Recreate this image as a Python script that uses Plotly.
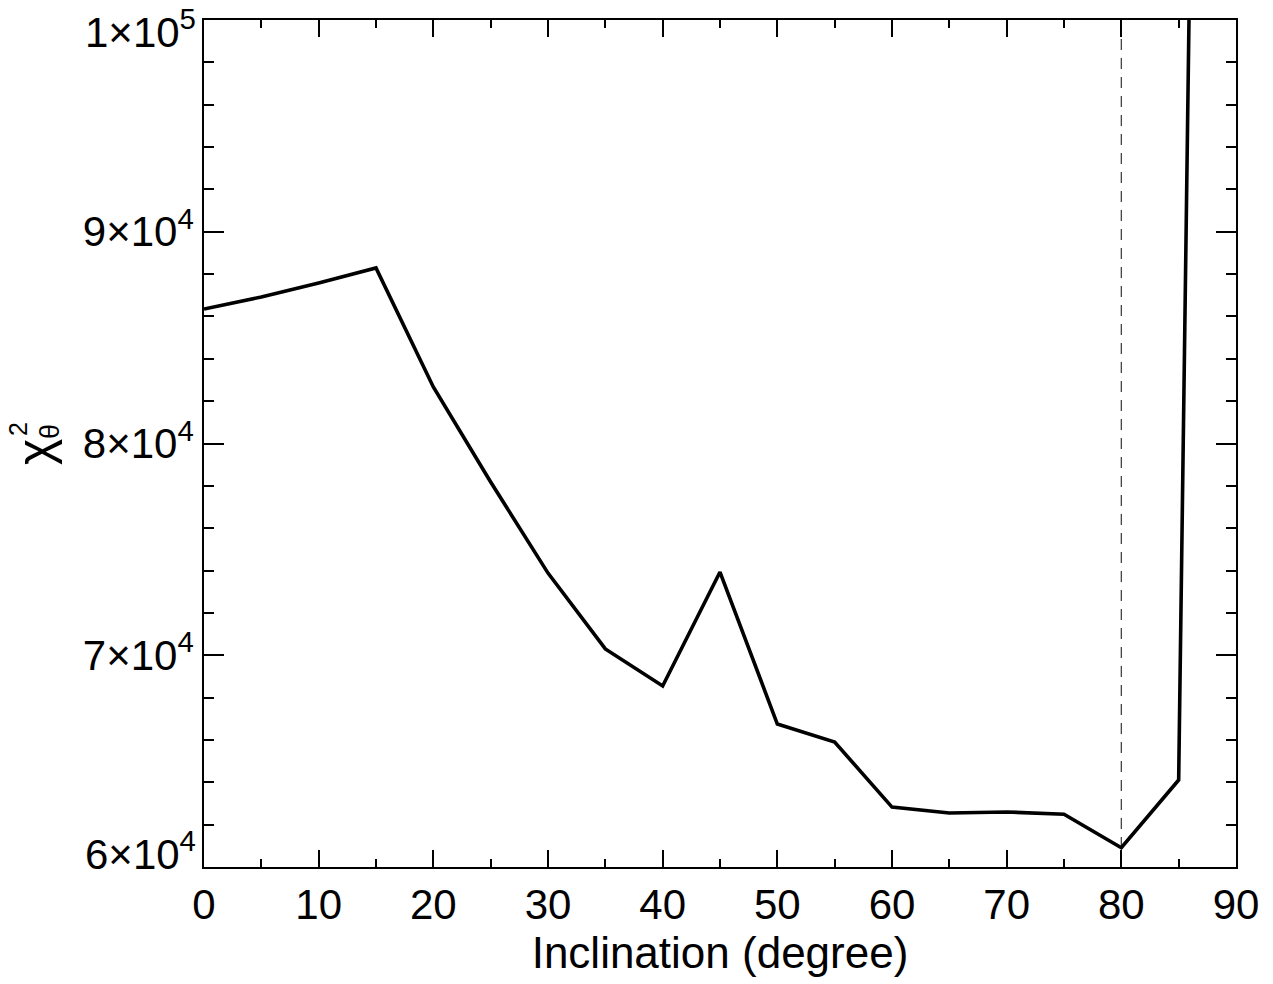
import plotly.graph_objects as go

inclination = [0, 5, 10, 15, 20, 25, 30, 35, 40, 45, 50, 55, 60, 65, 70, 75, 80, 85, 90]
chi2 = [86350, 86920, 87580, 88290, 82670, 78180, 73880, 70300, 68550, 73930,
        66750, 65900, 62830, 62550, 62600, 62490, 60910, 64110, 263600]
best_incl = 80
y_tickvals = [60000, 70000, 80000, 90000, 100000]
y_ticktext = ["", "7×10<sup>4</sup>", "8×10<sup>4</sup>", "9×10<sup>4</sup>", ""]
y_end_labels = {60000: "6×10<sup>4</sup>", 100000: "1×10<sup>5</sup>"}
x_tickvals = [0, 10, 20, 30, 40, 50, 60, 70, 80, 90]

FONT = "Liberation Sans, Arial, Helvetica, sans-serif"

# plot area in pixels: x 204..1236, y 20..867
L, R, T, B = 204, 1236, 20, 867
def px(xp):
    return (xp - L) / (R - L)
def py(yp):
    return (B - yp) / (B - T)

fig = go.Figure()
fig.add_trace(go.Scatter(x=[best_incl, best_incl], y=[60000, 100000], mode="lines",
                         line=dict(color="#444444", width=1.3, dash="11px,8px"),
                         showlegend=False, hoverinfo="skip"))
fig.add_trace(go.Scatter(x=inclination, y=chi2, mode="lines",
                         line=dict(color="black", width=3.6),
                         showlegend=False))

# end tick labels, nudged inside the figure as in the original
for val, txt in y_end_labels.items():
    fig.add_annotation(text=txt, xref="paper", yref="y", x=0, y=val,
                       xanchor="right", yanchor="middle", xshift=-6,
                       yshift=(-9 if val == 100000 else 16),
                       showarrow=False, font=dict(family=FONT, size=42, color="black"))

# y-axis title: chi with stacked super/subscript
fig.add_annotation(text="χ", textangle=-90, xref="paper", yref="paper",
                   x=px(35), y=py(452), xanchor="center", yanchor="middle",
                   showarrow=False, font=dict(family=FONT, size=50, color="black"))
fig.add_annotation(text="2", textangle=-90, xref="paper", yref="paper",
                   x=px(18), y=py(429), xanchor="center", yanchor="middle",
                   showarrow=False, font=dict(family=FONT, size=25, color="black"))
fig.add_annotation(text="θ", textangle=-90, xref="paper", yref="paper",
                   x=px(50), y=py(432), xanchor="center", yanchor="middle",
                   showarrow=False, font=dict(family=FONT, size=27, color="black"))

fig.update_layout(
    width=1273, height=984,
    margin=dict(l=L, r=1273 - R, t=T, b=984 - B, autoexpand=False),
    paper_bgcolor="white", plot_bgcolor="white",
    font=dict(family=FONT, size=42, color="black"),
    xaxis=dict(
        range=[0, 90], tickvals=x_tickvals, ticks="inside", ticklen=17, tickwidth=1.5,
        tickcolor="black", showline=True, linecolor="black", linewidth=1.6, mirror="ticks",
        showgrid=False, zeroline=False, automargin=False,
        minor=dict(dtick=5, ticks="inside", ticklen=8, tickwidth=1.5, tickcolor="black", showgrid=False),
        title=dict(text="Inclination (degree)", standoff=0, font=dict(size=44)),
        tickfont=dict(size=42),
    ),
    yaxis=dict(
        range=[60000, 100000], tickvals=y_tickvals, ticktext=y_ticktext, ticks="inside",
        ticklen=20, tickwidth=1.5, tickcolor="black", showline=True, linecolor="black",
        linewidth=1.6, mirror="ticks", showgrid=False, zeroline=False, automargin=False,
        minor=dict(dtick=2000, ticks="inside", ticklen=10, tickwidth=1.5, tickcolor="black", showgrid=False),
        tickfont=dict(size=42),
    ),
)

fig.write_html("out.html")
